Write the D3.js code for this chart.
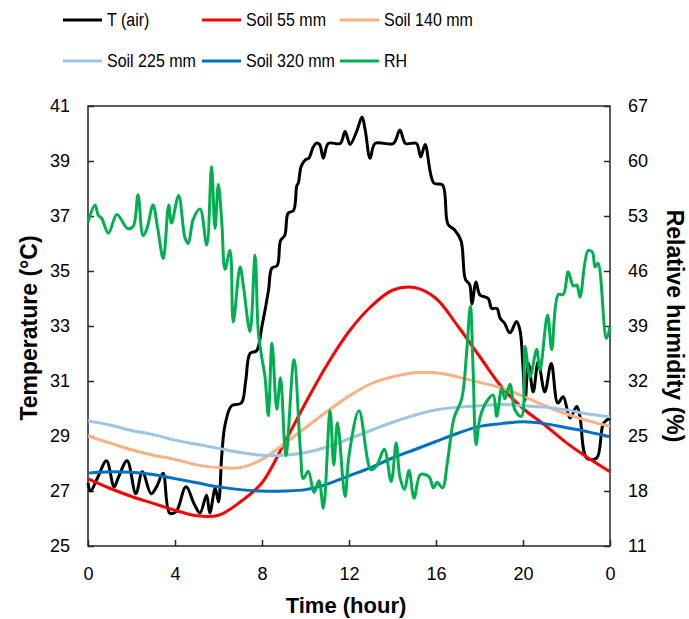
<!DOCTYPE html>
<html>
<head>
<meta charset="utf-8">
<script src="https://cdn.jsdelivr.net/npm/d3@7"></script>
<style>
  body { margin: 0; background: #fff; }
  text { font-family: "Liberation Sans", Arial, sans-serif; fill: #000; }
</style>
</head>
<body>
<svg id="chart" width="689" height="619"></svg>
<script>
// hourly soil temperatures (°C)
const soilHours = [0,1,2,3,4,5,6,7,8,9,10,11,12,13,14,15,16,17,18,19,20,21,22,23,24];
const soil55 = [27.44,27.1,26.8,26.55,26.3,26.1,26.12,26.6,27.3,28.7,30.2,31.6,32.8,33.7,34.3,34.4,34.0,33.0,31.9,30.8,30.0,29.4,28.75,28.2,27.7];
const soil140 = [29.0,28.75,28.5,28.3,28.15,27.95,27.85,27.85,28.15,28.7,29.3,29.9,30.45,30.9,31.15,31.3,31.3,31.15,30.95,30.75,30.45,30.1,29.8,29.55,29.35];
const soil225 = [29.55,29.4,29.2,29.05,28.85,28.7,28.55,28.4,28.3,28.3,28.4,28.6,28.9,29.2,29.5,29.75,29.95,30.05,30.1,30.15,30.1,30.05,29.95,29.8,29.7];
const soil320 = [27.65,27.7,27.68,27.6,27.45,27.3,27.15,27.05,27.0,27.0,27.05,27.25,27.55,27.85,28.2,28.5,28.8,29.1,29.35,29.45,29.52,29.45,29.3,29.15,28.97];

// air temperature (°C)
const airHours = [0,0.12,0.45,0.85,1.2,1.4,1.8,2.2,2.5,2.9,3.15,3.45,3.75,4.05,4.5,4.9,5.15,5.45,5.6,5.85,6.0,6.15,6.3,6.6,7.05,7.25,7.45,7.75,8.0,8.3,8.45,8.7,8.85,9.05,9.2,9.45,9.6,9.67,9.8,10.0,10.15,10.35,10.5,10.65,10.82,11.05,11.6,11.82,12.05,12.35,12.6,12.75,12.97,13.2,14.04,14.34,14.6,15.1,15.3,15.5,15.9,16.3,16.55,16.85,17.15,17.35,17.55,17.65,17.84,18.02,18.4,18.56,18.8,18.95,19.15,19.4,19.7,19.86,20.0,20.1,20.25,20.47,20.7,21.0,21.3,21.6,21.85,22.16,22.47,22.62,22.93,23.39,23.7,24.0];
const airTemp = [27.3,27.0,27.5,28.1,27.15,27.5,28.1,26.9,27.7,26.9,27.15,27.65,26.2,26.25,27.15,26.5,26.2,26.85,26.2,27.1,26.6,28.3,29.4,30.1,30.2,31.0,32.0,32.1,33.0,34.3,35.1,35.2,36.1,36.3,37.1,37.2,38.1,38.2,38.8,39.05,39.1,39.5,39.65,39.6,39.1,39.64,39.64,40.07,39.6,40.07,40.6,40.1,39.1,39.64,39.64,40.13,39.64,39.64,39.15,39.6,38.2,38.13,36.7,36.5,36.1,34.7,34.5,33.8,34.6,34.13,34.0,33.64,33.64,33.28,33.1,32.75,33.16,32.85,31.5,30.3,31.64,30.6,31.7,30.6,31.64,30.2,30.43,29.65,30.07,29.7,28.2,28.2,29.46,29.65];

// relative humidity (%)
const rhHours = [0,0.32,0.47,0.63,0.94,1.33,1.82,2.08,2.3,2.53,2.7,2.99,3.2,3.46,3.71,3.84,4.17,4.46,4.61,4.84,5.15,5.46,5.68,5.84,5.99,6.15,6.3,6.53,6.68,6.99,7.14,7.45,7.68,7.83,7.99,8.14,8.29,8.46,8.68,8.85,9.1,9.47,9.77,9.9,10.13,10.39,10.62,10.82,11.13,11.3,11.47,11.82,12.0,12.46,13.01,13.27,13.62,13.94,14.17,14.34,14.55,14.76,14.99,15.29,15.68,15.88,16.05,16.3,16.53,16.83,17.18,17.41,17.58,17.71,17.84,18.02,18.33,18.63,18.79,19.02,19.17,19.4,19.63,19.93,20.09,20.32,20.63,20.78,21.13,21.32,21.62,21.85,22.08,22.31,22.47,22.62,22.99,23.19,23.31,23.45,23.83,24.0];
const rhValues = [52.2,54.4,53.1,52.7,50.8,53.2,51.4,51.7,55.7,50.5,51.3,54.4,51.5,47.6,54.4,52.1,55.6,50.2,49.5,52.6,53.9,49.3,59.3,51.4,57.0,52.3,46.2,48.6,39.5,46.5,44.2,38.3,48.0,38.3,35.0,32.5,27.6,36.8,28.4,32.4,22.5,34.7,23.0,19.6,20.5,17.8,19.3,15.8,28.2,21.3,26.7,17.3,22.5,28.2,20.7,21.2,23.3,19.2,24.1,19.8,18.2,20.6,17.1,20.1,19.8,18.4,19.1,18.4,21.8,27.3,29.7,35.7,41.5,33.2,23.9,27.3,29.4,30.2,27.5,31.1,29.7,31.6,28.3,27.5,36.4,32.5,36.0,33.4,40.4,36.0,43.0,43.0,45.9,44.1,44.2,42.7,48.6,48.4,46.5,47.0,37.4,38.9];

const tempTicks = [25,27,29,31,33,35,37,39,41];
const rhTicks = [11,18,25,32,39,46,53,60,67];
const hourTicks = [0,4,8,12,16,20,24];

const series = [
    { name: 'T (air)', xs: airHours, ys: airTemp, color: '#000000', axis: 'T' },
    { name: 'Soil 55 mm', xs: soilHours, ys: soil55, color: '#ff0000', axis: 'T' },
    { name: 'Soil 140 mm', xs: soilHours, ys: soil140, color: '#f8b183', axis: 'T' },
    { name: 'Soil 225 mm', xs: soilHours, ys: soil225, color: '#9dc3e6', axis: 'T' },
    { name: 'Soil 320 mm', xs: soilHours, ys: soil320, color: '#0070c0', axis: 'T' },
    { name: 'RH', xs: rhHours, ys: rhValues, color: '#00b050', axis: 'RH' }
];

const svg = d3.select('#chart');
const m = { left: 88, right: 610, top: 106, bottom: 546 };

const x = d3.scaleLinear().domain([0, 24]).range([m.left, m.right]);
const yT = d3.scaleLinear().domain([25, 41]).range([m.bottom, m.top]);
const yRH = d3.scaleLinear().domain([11, 67]).range([m.bottom, m.top]);

// plot frame
svg.append('rect')
    .attr('x', m.left).attr('y', m.top)
    .attr('width', m.right - m.left).attr('height', m.bottom - m.top)
    .attr('fill', 'none').attr('stroke', '#262626').attr('stroke-width', 1.5);

function styleAxis(g) {
    g.select('.domain').remove();
    g.selectAll('.tick line').attr('stroke', '#262626').attr('stroke-width', 1.5);
    g.selectAll('.tick text').style('font-size', '18px').attr('fill', '#000');
}

svg.append('g')
    .attr('transform', `translate(0,${m.bottom})`)
    .call(d3.axisBottom(x).tickValues(hourTicks).tickFormat(d => d % 24).tickSize(-6).tickPadding(21))
    .call(styleAxis);

svg.append('g')
    .attr('transform', `translate(${m.left},0)`)
    .call(d3.axisLeft(yT).tickValues(tempTicks).tickSize(-6).tickPadding(18))
    .call(styleAxis);

svg.append('g')
    .attr('transform', `translate(${m.right},0)`)
    .call(d3.axisRight(yRH).tickValues(rhTicks).tickSize(-6).tickPadding(18))
    .call(styleAxis);

// lines
series.forEach(s => {
    const yScale = s.axis === 'RH' ? yRH : yT;
    const pts = s.xs.map((h, i) => [h, s.ys[i]]);
    const line = d3.line()
        .x(d => x(d[0]))
        .y(d => yScale(d[1]))
        .curve(d3.curveCatmullRom.alpha(0.5));
    svg.append('path')
        .datum(pts)
        .attr('d', line)
        .attr('fill', 'none')
        .attr('stroke', s.color)
        .attr('stroke-width', 3)
        .attr('stroke-linejoin', 'round');
});

// axis titles
svg.append('text')
    .attr('transform', `translate(37,${(m.top + m.bottom) / 2 + 2}) rotate(-90)`)
    .attr('text-anchor', 'middle')
    .style('font-size', '23px').style('font-weight', 'bold')
    .text('Temperature (°C)');

svg.append('text')
    .attr('transform', `translate(667,${(m.top + m.bottom) / 2}) rotate(90)`)
    .attr('text-anchor', 'middle')
    .style('font-size', '23px').style('font-weight', 'bold')
    .text('Relative humidity (%)');

svg.append('text')
    .attr('x', 346).attr('y', 613)
    .attr('text-anchor', 'middle')
    .style('font-size', '22px').style('font-weight', 'bold')
    .text('Time (hour)');

// legend, two rows of three (text slightly condensed like the original)
const legendCols = [63, 202, 340];
const legendRows = [20, 61];
const legend = svg.append('g');
series.forEach((s, i) => {
    const lx = legendCols[i % 3];
    const ly = legendRows[Math.floor(i / 3)];
    legend.append('line')
        .attr('x1', lx).attr('x2', lx + 39)
        .attr('y1', ly).attr('y2', ly)
        .attr('stroke', s.color).attr('stroke-width', 3);
    legend.append('text')
        .attr('transform', `translate(${lx + 44},${ly}) scale(0.89,1)`)
        .attr('dy', '0.35em')
        .style('font-size', '18px')
        .text(s.name);
});
</script>
</body>
</html>
